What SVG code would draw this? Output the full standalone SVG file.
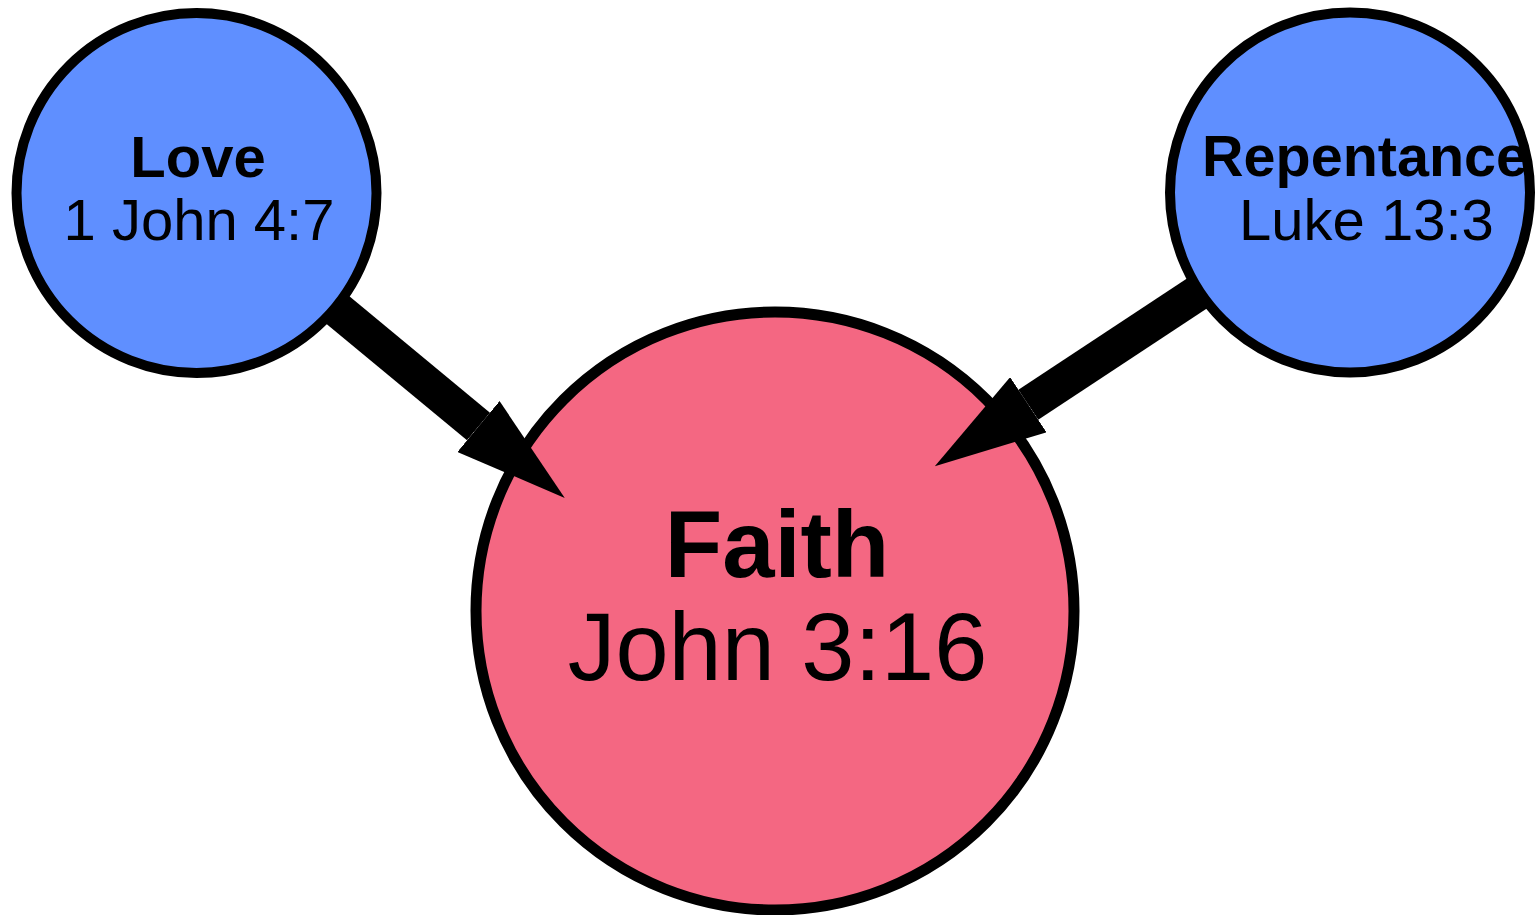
<svg xmlns="http://www.w3.org/2000/svg" width="1535" height="915" viewBox="0 0 1535 915">
<style>
.node{stroke:#000;stroke-width:10}
.blue{fill:#5F8FFF}
.pink{fill:#F46782}
.t{font-family:"Liberation Sans",Arial,sans-serif;fill:#000;text-anchor:middle}
.b{font-weight:bold}
.edge{stroke:#000;stroke-width:36;fill:none;marker-end:url(#ah)}
</style>
<defs>
<marker id="ah" markerUnits="userSpaceOnUse" viewBox="0 0 112 66" markerWidth="112" markerHeight="66" refX="0" refY="33" orient="auto">
<path d="M0,0 L112,33 L0,66 Z" fill="#000"/>
</marker>
</defs>
<rect width="1535" height="915" fill="#fff"/>
<g id="faith">
<circle class="node pink" cx="775" cy="611" r="299" style="stroke-width:11"/>
<text class="t b" x="777" y="577" font-size="94">Faith</text>
<text class="t" x="777.5" y="680" font-size="95.5">John 3:16</text>
</g>
<g id="edges">
<line class="edge" x1="196.5" y1="193" x2="478.5" y2="426.5"/>
<line class="edge" x1="1350" y1="192.5" x2="1028.3" y2="404.7"/>
</g>
<g id="love">
<circle class="node blue" cx="196.5" cy="193" r="180"/>
<text class="t b" x="198" y="177" font-size="58">Love</text>
<text class="t" x="199" y="240" font-size="58">1 John 4:7</text>
</g>
<g id="repentance">
<circle class="node blue" cx="1350" cy="192.5" r="180"/>
<text class="t b" x="1365" y="176" font-size="57.5">Repentance</text>
<text class="t" x="1366.5" y="239.5" font-size="58">Luke 13:3</text>
</g>
</svg>
